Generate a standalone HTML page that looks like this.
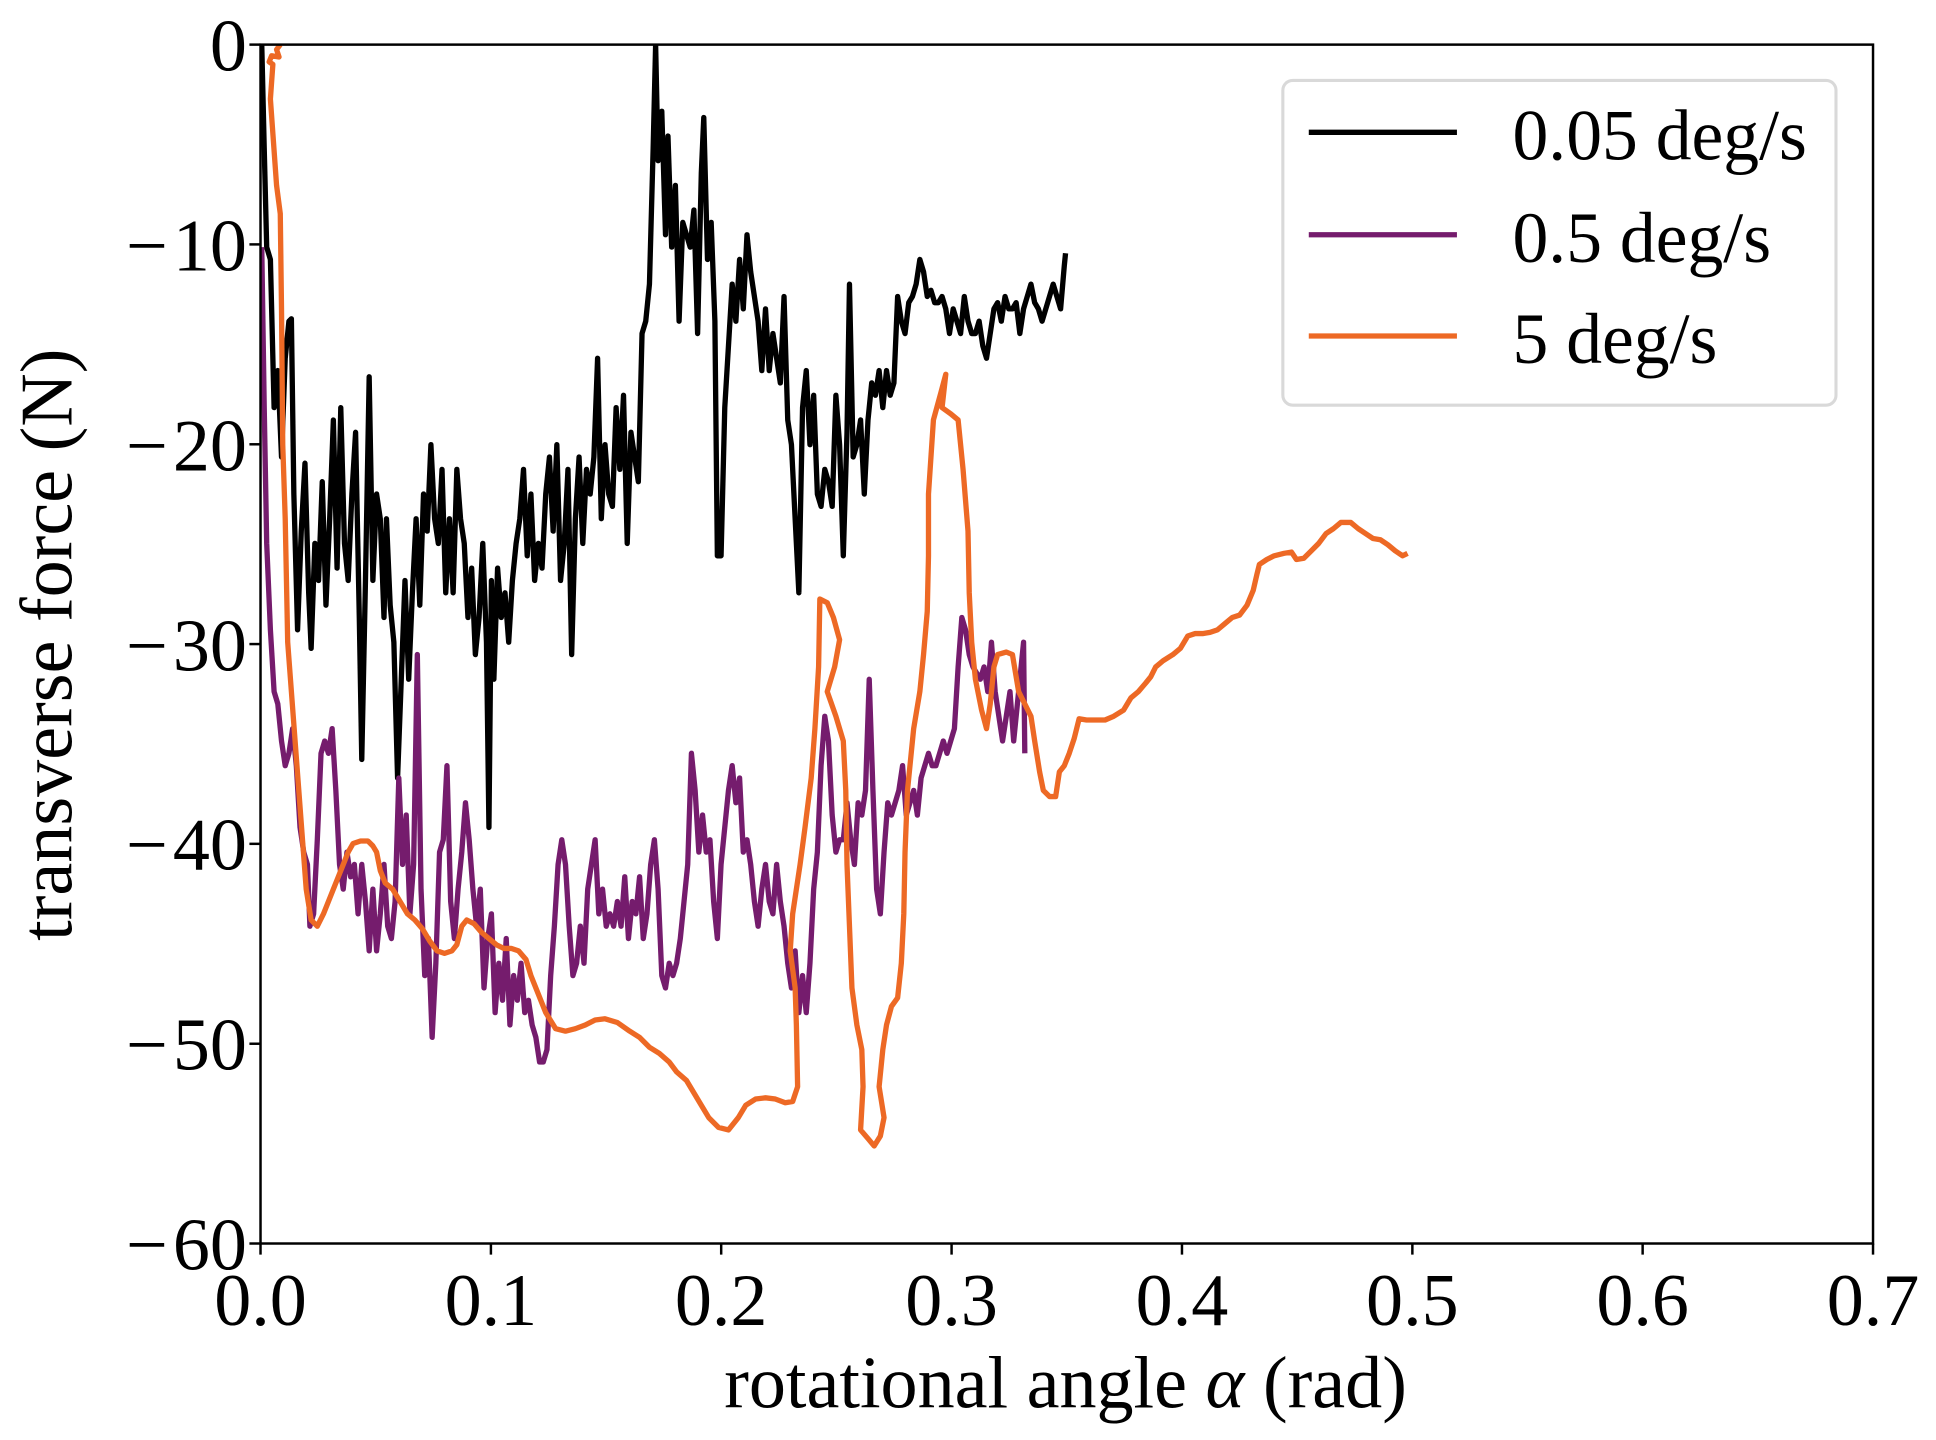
<!DOCTYPE html>
<html><head><meta charset="utf-8"><style>html,body{margin:0;padding:0;background:#fff}svg{display:block}</style></head>
<body>
<svg width="1936" height="1440" viewBox="0 0 1568 1166" xmlns="http://www.w3.org/2000/svg" font-family="'Liberation Serif', serif">
<rect width="1568" height="1166" fill="#fff"/>
<defs><clipPath id="c"><rect x="211" y="36" width="1306" height="971"/></clipPath></defs>
<g clip-path="url(#c)" fill="none" stroke-width="4.3" stroke-linejoin="round">
<polyline stroke="#000" points="212,36 214,120 216,200 219,210 222,330 225,300 228,370 231,290 234,260 236,258 238,400 241,510 244,430 247,375 250,480 252,525 255,440 258,470 261,390 264,490 267,420 270,340 273,460 276,330 279,440 282,470 285,400 288,350 291,500 293,615 296,470 299,305 302,470 305,400 308,420 311,500 313,420 316,490 319,520 322,630 325,550 328,470 331,550 334,480 337,420 340,490 343,400 346,430 349,360 352,420 355,440 358,380 361,480 364,420 367,480 370,380 373,420 376,440 379,500 382,460 385,530 388,500 391,440 394,520 396,670 398,470 400,550 403,460 406,500 409,480 412,520 415,470 418,440 421,420 424,380 427,450 430,400 433,470 436,440 439,460 442,400 445,370 448,430 451,360 454,470 457,440 460,380 463,530 466,420 469,370 472,440 475,380 478,400 481,370 484,290 487,420 490,360 493,400 496,410 499,330 502,380 505,320 508,440 511,350 514,370 517,390 520,270 523,260 526,230 529,120 531,36 533,130 536,90 539,190 541,110 544,200 547,150 550,260 553,180 556,190 559,200 562,170 565,270 568,140 570,95 573,210 576,180 579,260 581,450 584,450 587,330 590,280 593,230 596,260 599,210 602,250 605,190 608,220 611,240 614,260 617,300 620,250 623,300 626,270 629,290 632,310 635,240 638,340 641,360 644,420 647,480 650,330 653,300 656,360 659,320 662,400 665,410 668,380 671,390 674,410 677,320 680,360 683,450 686,350 688,230 691,370 694,360 697,340 700,400 703,340 706,310 709,320 712,300 715,330 718,300 721,320 724,310 727,240 730,260 733,270 736,245 739,240 742,230 745,210 748,220 751,240 754,235 757,245 760,245 763,240 766,250 769,270 772,250 775,260 778,270 781,240 784,260 787,270 790,270 793,260 796,280 799,290 802,270 805,250 808,245 811,260 814,240 817,250 820,250 823,245 826,270 829,250 832,240 835,230 838,245 841,250 844,260 847,250 850,240 853,230 856,240 859,250 862,215 863,205"/>
<polyline stroke="#751c6d" points="212,200 214,330 216,440 219,510 222,560 225,570 228,600 231,620 234,610 237,590 240,620 243,670 246,690 249,700 251,750 254,740 257,680 260,610 263,600 266,610 269,590 272,640 275,700 278,720 281,690 284,710 287,700 290,740 293,700 296,730 299,770 302,720 305,770 308,740 311,700 314,750 317,760 320,730 323,630 326,700 329,660 332,740 335,700 338,530 341,720 344,790 347,760 350,840 353,780 356,690 359,680 362,620 365,730 368,760 371,720 374,690 377,650 380,680 383,720 386,750 389,720 392,800 395,760 398,740 401,820 404,780 407,810 410,760 413,830 416,790 419,810 422,780 425,820 428,810 431,830 434,840 437,860 440,860 443,850 446,790 449,750 452,700 455,680 458,700 461,750 464,790 467,780 470,750 473,780 476,720 479,700 482,680 485,740 488,720 491,750 494,740 497,750 500,730 503,750 506,710 509,760 512,730 515,740 518,710 521,760 524,740 527,700 530,680 533,720 536,790 539,800 542,780 545,790 548,780 551,760 554,730 557,700 560,610 563,640 566,690 569,660 572,690 575,680 578,730 581,760 584,700 587,670 590,640 593,620 596,650 599,630 602,690 605,680 608,700 611,730 614,750 617,720 620,700 623,730 626,740 629,700 632,730 635,750 638,780 641,800 644,770 647,820 650,790 653,820 656,780 659,720 662,690 665,620 668,580 671,600 674,660 677,690 680,680 683,680 686,650 689,680 692,700 695,650 698,660 701,640 704,550 707,640 710,720 713,740 716,690 719,650 722,660 725,650 728,640 731,620 734,660 737,650 740,640 743,660 746,630 749,620 752,610 755,620 758,620 761,610 764,600 767,610 770,600 773,590 776,540 779,500 782,510 785,530 788,540 791,545 794,550 797,540 800,560 803,520 806,560 809,580 812,600 815,580 818,560 821,600 824,570 827,540 829,520 830,610"/>
<polyline stroke="#ed6925" points="227,36 224,40 226,46 220,45 218,50 221,52 219,80 224,150 227,173 228,250 229,360 231,420 233,520 236,560 239,600 242,640 245,680 248,720 252,745 257,750 262,740 266,730 270,720 274,710 278,700 282,690 286,683 292,681 298,681 302,685 305,690 308,705 312,715 318,720 324,730 330,740 336,745 342,752 348,762 354,770 360,772 366,770 370,765 374,750 378,745 384,748 390,755 396,760 402,765 408,768 414,768 420,770 426,777 430,790 436,805 442,820 450,833 458,835 466,833 474,830 482,826 490,825 500,828 510,835 518,840 526,848 534,853 542,860 548,868 556,875 562,885 568,895 574,905 582,913 590,915 598,905 604,895 612,890 620,889 628,890 636,893 642,892 646,880 645,830 644,800 640,770 642,740 648,700 652,670 657,630 660,590 663,540 664,485 670,488 675,500 680,518 676,540 670,560 677,580 683,600 685,640 686,700 688,750 690,800 694,830 698,850 699,880 697,915 703,922 708,928 713,920 716,905 712,880 715,850 718,830 722,815 727,808 730,780 732,740 733,690 735,640 740,590 745,560 748,530 751,495 752,450 752,400 756,340 762,318 766,303 763,330 770,335 776,340 780,380 784,430 785,480 787,520 790,550 795,575 799,590 802,570 805,540 808,530 815,528 820,530 825,560 830,570 835,580 838,600 842,625 845,640 850,645 855,645 858,625 862,620 866,610 870,598 874,582 880,583 888,583 895,583 902,580 910,575 916,565 922,560 928,553 932,548 936,540 942,535 950,530 956,525 962,515 968,513 974,513 980,512 986,510 992,505 998,500 1004,498 1010,490 1015,478 1018,465 1020,457 1026,453 1032,450 1040,448 1046,447 1050,453 1056,452 1062,446 1068,440 1074,432 1080,428 1086,423 1094,423 1100,428 1106,432 1112,436 1118,437 1124,441 1130,446 1136,450 1140,448"/>
</g>
<rect x="211" y="36" width="1306" height="971" fill="none" stroke="#000" stroke-width="2"/>
<g stroke="#000" stroke-width="2">
<line x1="211" y1="1007" x2="211" y2="1016"/><line x1="397.6" y1="1007" x2="397.6" y2="1016"/><line x1="584.1" y1="1007" x2="584.1" y2="1016"/><line x1="770.7" y1="1007" x2="770.7" y2="1016"/><line x1="957.3" y1="1007" x2="957.3" y2="1016"/><line x1="1143.9" y1="1007" x2="1143.9" y2="1016"/><line x1="1330.4" y1="1007" x2="1330.4" y2="1016"/><line x1="1517" y1="1007" x2="1517" y2="1016"/>
<line x1="202" y1="36" x2="211" y2="36"/><line x1="202" y1="197.8" x2="211" y2="197.8"/><line x1="202" y1="359.7" x2="211" y2="359.7"/><line x1="202" y1="521.5" x2="211" y2="521.5"/><line x1="202" y1="683.3" x2="211" y2="683.3"/><line x1="202" y1="845.2" x2="211" y2="845.2"/><line x1="202" y1="1007" x2="211" y2="1007"/>
</g>
<g font-size="60" text-anchor="middle" fill="#000">
<text x="211" y="1073">0.0</text><text x="397.6" y="1073">0.1</text><text x="584.1" y="1073">0.2</text><text x="770.7" y="1073">0.3</text><text x="957.3" y="1073">0.4</text><text x="1143.9" y="1073">0.5</text><text x="1330.4" y="1073">0.6</text><text x="1517" y="1073">0.7</text>
</g>
<g font-size="60" text-anchor="end" fill="#000">
<text x="200" y="57">0</text><text x="200" y="219">−<tspan dx="4">10</tspan></text><text x="200" y="381">−<tspan dx="4">20</tspan></text><text x="200" y="543">−<tspan dx="4">30</tspan></text><text x="200" y="704">−<tspan dx="4">40</tspan></text><text x="200" y="866">−<tspan dx="4">50</tspan></text><text x="200" y="1028">−<tspan dx="4">60</tspan></text>
</g>
<text x="863" y="1140" font-size="60" text-anchor="middle">rotational angle <tspan font-style="italic">α</tspan> (rad)</text>
<text transform="translate(58,522) rotate(-90)" font-size="60" text-anchor="middle">transverse force (N)</text>
<rect x="1039" y="65" width="448" height="263" rx="8" fill="#fff" fill-opacity="0.8" stroke="#d9d9d9" stroke-width="2.5"/>
<g stroke-width="4.3"><line x1="1060" y1="107" x2="1180" y2="107" stroke="#000"/><line x1="1060" y1="190" x2="1180" y2="190" stroke="#751c6d"/><line x1="1060" y1="272" x2="1180" y2="272" stroke="#ed6925"/></g>
<g font-size="58" fill="#000"><text x="1225" y="129">0.05 deg/s</text><text x="1225" y="212">0.5 deg/s</text><text x="1225" y="294">5 deg/s</text></g>
</svg>
</body></html>
